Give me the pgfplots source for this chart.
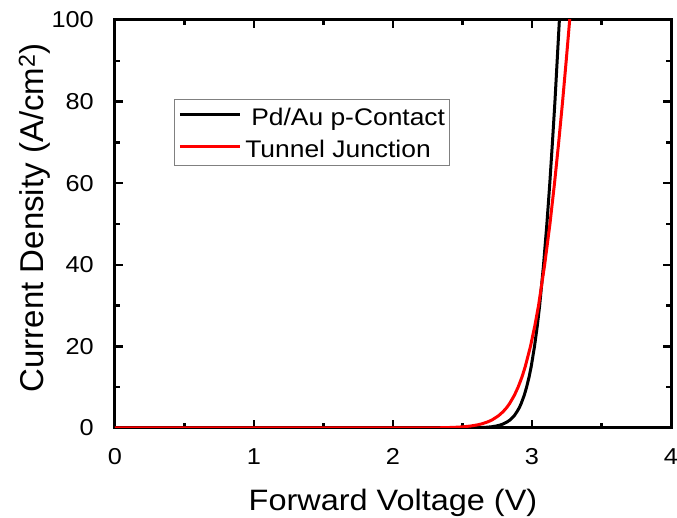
\documentclass[border=0pt]{standalone}
\usepackage{fontspec}
\setmainfont{Liberation Sans}
\newfontfamily\wide{Liberation Sans}[FakeStretch=1.1]
\usepackage{pgfplots}
\pgfplotsset{compat=1.18}
\usepackage{pgfplotstable}

\pgfplotstableread{
V J
0.000 0
2.520 0.02
2.584 0.05
2.632 0.1
2.680 0.2
2.709 0.3
2.745 0.5
2.773 0.75
2.793 1
2.822 1.5
2.843 2
2.872 3
2.892 4
2.909 5
2.922 6
2.944 8
2.961 10
2.979 12.5
2.994 15
3.018 20
3.038 25
3.055 30
3.083 40
3.107 50
3.128 60
3.147 70
3.165 80
3.181 90
3.197 100
3.212 110
}\blackdata

\pgfplotstableread{
V J
0.000 0
2.207 0.01
2.327 0.05
2.393 0.1
2.464 0.2
2.507 0.3
2.562 0.5
2.606 0.75
2.637 1
2.682 1.5
2.714 2
2.759 3
2.792 4
2.818 5
2.839 6
2.873 8
2.900 10
2.928 12.5
2.951 15
2.989 20
3.020 25
3.047 30
3.091 40
3.129 50
3.162 60
3.192 70
3.220 80
3.246 90
3.271 100
3.294 110
}\reddata

\begin{document}
\begin{tikzpicture}
\begin{axis}[
  scale only axis, width=556pt, height=408pt,
  xmin=0, xmax=4, ymin=0, ymax=100,
  xtick={0,1,2,3,4}, ytick={0,20,40,60,80,100},
  minor x tick num=1, minor y tick num=1,
  tick align=inside,
  major tick length=8pt, minor tick length=5pt,
  every tick/.style={line width=2.5pt, black},
  axis line style={line width=3pt},
  /pgf/number format/assume math mode=true,
  tick label style={font=\wide\fontsize{23}{27}\selectfont, inner sep=0pt},
  xticklabel style={yshift=-20pt},
  yticklabel style={xshift=-21pt},
  xlabel={Forward Voltage (V)},
  xlabel style={at={(axis description cs:0.5,-0.2034)}, anchor=base, inner sep=0pt, font=\wide\fontsize{29.5}{34}\selectfont},
  ylabel={Current Density (A/cm\textsuperscript{2})},
  ylabel style={at={(axis description cs:-0.1277,0.515)}, anchor=base, inner sep=0pt, font=\fontsize{33}{38}\selectfont},
  legend style={at={(axis description cs:0.106,0.806)}, anchor=north west,
    draw=gray, line width=0.8pt, inner xsep=4pt, inner ysep=6pt,
    font=\wide\fontsize{24}{28}\selectfont, row sep=9.5pt, column sep=4pt,
    nodes={inner sep=0pt, text height=20pt, text depth=2pt}},
  legend cell align=left,
  legend image code/.code={\draw[#1, line width=3pt] (0pt,2pt) -- (60pt,2pt);},
]
\addplot[black, line width=3pt, line join=round] table[x=V, y=J] {\blackdata};
\addlegendentry{\hspace{6pt}Pd/Au p-Contact}
\addplot[red, line width=3pt, line join=round] table[x=V, y=J] {\reddata};
\addlegendentry{Tunnel Junction}
\coordinate (sw) at (rel axis cs:0,0);
\end{axis}
\pgfresetboundingbox
\path (sw) ++(-115pt,-90pt) rectangle ++(677pt,518pt);
\end{tikzpicture}
\end{document}
